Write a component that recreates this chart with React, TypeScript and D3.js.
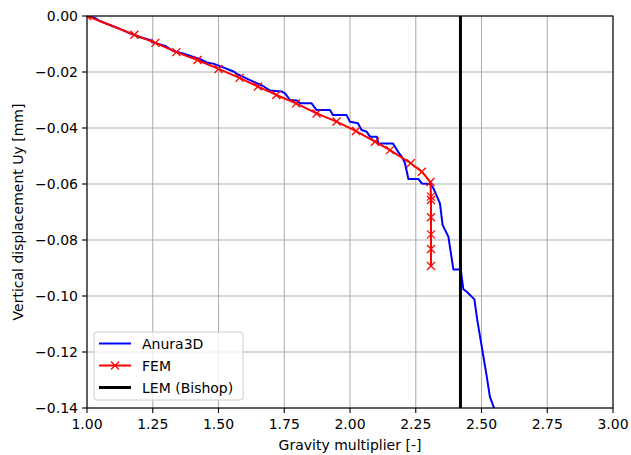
import React, { useEffect } from "react";
import * as d3 from "d3";

const anuraX = [1.0, 1.03, 1.049, 1.087, 1.125, 1.163, 1.202, 1.24, 1.247, 1.297, 1.327, 1.373, 1.43, 1.456, 1.483, 1.525, 1.559, 1.57, 1.62, 1.669, 1.696, 1.741, 1.753, 1.772, 1.798, 1.81, 1.854, 1.873, 1.924, 1.935, 1.987, 2.0, 2.03, 2.044, 2.063, 2.076, 2.102, 2.108, 2.163, 2.183, 2.198, 2.209, 2.222, 2.26, 2.273, 2.304, 2.317, 2.342, 2.352, 2.374, 2.393, 2.421, 2.431, 2.444, 2.473, 2.484, 2.501, 2.52, 2.532, 2.548];
const anuraY = [0.0, -0.0007, -0.0018, -0.0032, -0.0046, -0.0062, -0.0076, -0.0086, -0.0093, -0.0107, -0.0125, -0.0136, -0.0154, -0.0166, -0.0171, -0.0186, -0.0199, -0.0207, -0.0229, -0.025, -0.0266, -0.027, -0.0276, -0.03, -0.0302, -0.0312, -0.0312, -0.0336, -0.0336, -0.0354, -0.0354, -0.0378, -0.0383, -0.0407, -0.0413, -0.0431, -0.0431, -0.0455, -0.0455, -0.0485, -0.0504, -0.0525, -0.0582, -0.0582, -0.0598, -0.06, -0.0615, -0.0669, -0.0746, -0.0788, -0.0905, -0.0905, -0.0976, -0.0985, -0.1012, -0.1086, -0.1181, -0.1288, -0.136, -0.1401];

const femX = [1.0, 1.18, 1.26, 1.34, 1.42, 1.5, 1.58, 1.65, 1.72, 1.795, 1.873, 1.949, 2.023, 2.095, 2.152, 2.231, 2.273, 2.306, 2.308, 2.308, 2.308, 2.308, 2.308, 2.308];
const femY = [0.0, -0.0067, -0.0096, -0.0129, -0.0157, -0.0189, -0.0221, -0.0252, -0.0282, -0.0312, -0.0348, -0.0377, -0.0411, -0.0449, -0.0479, -0.0526, -0.0556, -0.0593, -0.0645, -0.0657, -0.0719, -0.078, -0.0832, -0.0893];

const lemX = 2.42;

const xTicks = [1.0, 1.25, 1.5, 1.75, 2.0, 2.25, 2.5, 2.75, 3.0];
const yTicks = [0.0, -0.02, -0.04, -0.06, -0.08, -0.1, -0.12, -0.14];

const seriesNames = ["Anura3D", "FEM", "LEM (Bishop)"];
const xLabel = "Gravity multiplier [-]";
const yLabel = "Vertical displacement Uy [mm]";

const W = 631;
const H = 455;
const M = { left: 87, right: 613, top: 16, bottom: 408 };
const FONT = "DejaVu Sans, sans-serif";

export default function App() {
  useEffect(() => {
    document.body.style.margin = "0";
  }, []);

  const x = d3.scaleLinear().domain([1, 3]).range([M.left, M.right]);
  const y = d3.scaleLinear().domain([-0.14, 0]).range([M.bottom, M.top]);

  const anura = anuraX.map((v, i) => [v, anuraY[i]] as [number, number]);
  const fem = femX.map((v, i) => [v, femY[i]] as [number, number]);
  const line = d3
    .line<[number, number]>()
    .x((d) => x(d[0]))
    .y((d) => y(d[1]));

  const fmt = (v: number) => {
    const s = Math.abs(v).toFixed(2);
    return v < -1e-9 ? "\u2212" + s : s;
  };

  const mk = 4;
  const legX = 94;
  const legY = 332;

  return (
    <svg width={W} height={H} style={{ display: "block", fontFamily: FONT }}>
      <rect x={0} y={0} width={W} height={H} fill="white" />
      <defs>
        <clipPath id="plotclip">
          <rect x={M.left} y={M.top} width={M.right - M.left} height={M.bottom - M.top} />
        </clipPath>
      </defs>
      {/* grid */}
      {xTicks.map((t) => (
        <line key={"gx" + t} x1={x(t)} x2={x(t)} y1={M.top} y2={M.bottom} stroke="#b0b0b0" strokeWidth={1.1} />
      ))}
      {yTicks.map((t) => (
        <line key={"gy" + t} x1={M.left} x2={M.right} y1={y(t)} y2={y(t)} stroke="#b0b0b0" strokeWidth={1.1} />
      ))}
      <g clipPath="url(#plotclip)">
        <path d={line(anura) || ""} fill="none" stroke="#0000ff" strokeWidth={2} strokeLinejoin="round" />
        <path d={line(fem) || ""} fill="none" stroke="#ff0000" strokeWidth={2} strokeLinejoin="round" />
        {fem.map((d, i) => (
          <g key={"m" + i} stroke="#ff0000" strokeWidth={1.3}>
            <line x1={x(d[0]) - mk} x2={x(d[0]) + mk} y1={y(d[1]) - mk} y2={y(d[1]) + mk} />
            <line x1={x(d[0]) - mk} x2={x(d[0]) + mk} y1={y(d[1]) + mk} y2={y(d[1]) - mk} />
          </g>
        ))}
        <line x1={x(lemX)} x2={x(lemX)} y1={M.top} y2={M.bottom} stroke="#000" strokeWidth={3} />
      </g>
      {/* spines */}
      <rect x={M.left} y={M.top} width={M.right - M.left} height={M.bottom - M.top} fill="none" stroke="#000" strokeWidth={1.1} />
      {/* x ticks */}
      {xTicks.map((t) => (
        <g key={"xt" + t}>
          <line x1={x(t)} x2={x(t)} y1={M.bottom} y2={M.bottom + 5} stroke="#000" strokeWidth={1.1} />
          <text x={x(t)} y={M.bottom + 21} textAnchor="middle" fontSize={14} fill="#000">
            {fmt(t)}
          </text>
        </g>
      ))}
      {yTicks.map((t) => (
        <g key={"yt" + t}>
          <line x1={M.left - 5} x2={M.left} y1={y(t)} y2={y(t)} stroke="#000" strokeWidth={1.1} />
          <text x={M.left - 9} y={y(t) + 5} textAnchor="end" fontSize={14} fill="#000">
            {fmt(t)}
          </text>
        </g>
      ))}
      <text x={(M.left + M.right) / 2} y={450} textAnchor="middle" fontSize={14} fill="#000">
        {xLabel}
      </text>
      <text transform={`translate(23,${(M.top + M.bottom) / 2}) rotate(-90)`} textAnchor="middle" fontSize={14} fill="#000">
        {yLabel}
      </text>
      {/* legend */}
      <rect x={legX} y={legY} width={149} height={68} rx={3} fill="white" fillOpacity={0.8} stroke="#cccccc" strokeWidth={1} />
      {seriesNames.map((n, i) => {
        const cy = legY + 11.5 + i * 22;
        const col = i === 0 ? "#0000ff" : i === 1 ? "#ff0000" : "#000";
        return (
          <g key={n}>
            <line x1={legX + 5} x2={legX + 37} y1={cy} y2={cy} stroke={col} strokeWidth={i === 2 ? 3 : 2} />
            {i === 1 && (
              <g stroke="#ff0000" strokeWidth={1.3}>
                <line x1={legX + 21 - mk} x2={legX + 21 + mk} y1={cy - mk} y2={cy + mk} />
                <line x1={legX + 21 - mk} x2={legX + 21 + mk} y1={cy + mk} y2={cy - mk} />
              </g>
            )}
            <text x={legX + 48} y={cy + 5} fontSize={14} fill="#000">
              {n}
            </text>
          </g>
        );
      })}
    </svg>
  );
}
